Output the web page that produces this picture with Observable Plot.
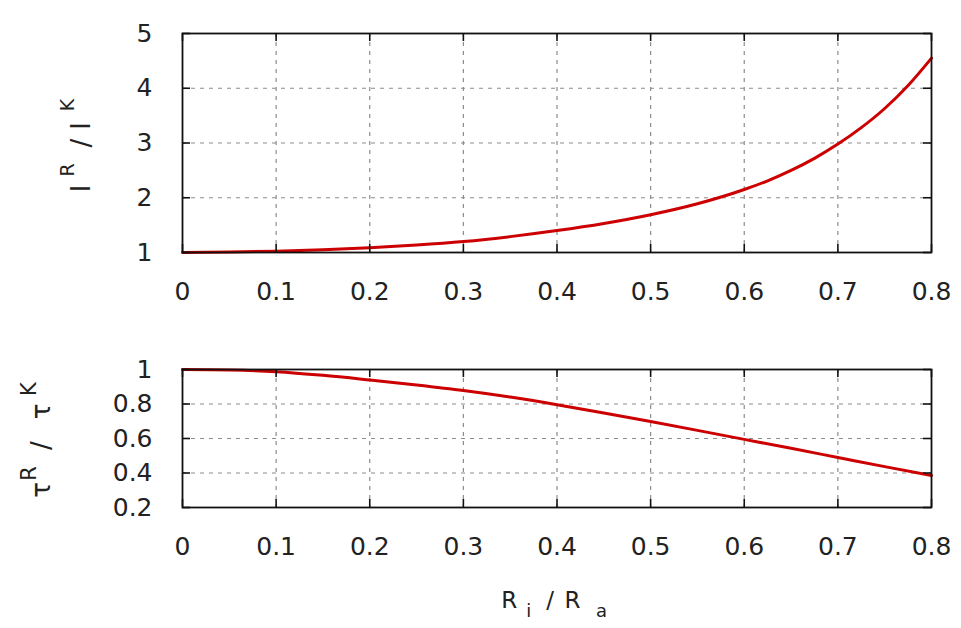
<!DOCTYPE html>
<html>
<head>
<meta charset="utf-8">
<script src="https://cdn.jsdelivr.net/npm/d3@7"></script>
<script src="https://cdn.jsdelivr.net/npm/@observablehq/plot@0.6"></script>
<style>
  html, body { margin: 0; padding: 0; background: white; }
  #chart { position: relative; width: 961px; height: 628px; background: white; }
  #chart > svg { position: absolute; left: 0; }
</style>
</head>
<body>
<div id="chart"></div>
<script>
// ---- data ----
const ratioTop = [0, 0.05, 0.1, 0.15, 0.2, 0.25, 0.3, 0.35, 0.4, 0.45, 0.5, 0.55, 0.6, 0.625, 0.65, 0.675, 0.7, 0.725, 0.75, 0.775, 0.8];
const inertiaRatio = [1.00, 1.008, 1.025, 1.05, 1.085, 1.135, 1.20, 1.29, 1.40, 1.53, 1.69, 1.89, 2.15, 2.31, 2.50, 2.72, 2.98, 3.28, 3.63, 4.05, 4.55];
const ratioBottom = [0, 0.05, 0.1, 0.15, 0.2, 0.25, 0.3, 0.35, 0.4, 0.45, 0.5, 0.55, 0.6, 0.65, 0.7, 0.75, 0.8];
const torsionRatio = [1.000, 0.997, 0.987, 0.966, 0.939, 0.910, 0.878, 0.840, 0.796, 0.748, 0.698, 0.647, 0.595, 0.543, 0.490, 0.437, 0.385];
const xTicks = [0, 0.1, 0.2, 0.3, 0.4, 0.5, 0.6, 0.7, 0.8];
const topYTicks = [1, 2, 3, 4, 5];
const bottomYTicks = [0.2, 0.4, 0.6, 0.8, 1];

const topData = ratioTop.map((x, i) => ({x, y: inertiaRatio[i]}));
const bottomData = ratioBottom.map((x, i) => ({x, y: torsionRatio[i]}));

const W = 961;
const lineColor = "#cc0000";
const gridColor = "#8c8c8c";
const fmt = d => String(d);

function panel({data, yDomain, yTicks, height, marginTop, marginBottom}) {
  const marginLeft = 182, marginRight = 30;
  const iw = W - marginLeft - marginRight;
  const ih = height - marginTop - marginBottom;
  const gx = xTicks.filter(d => d > 0 && d < 0.8);
  const gy = yTicks.filter(d => d > yDomain[0] && d < yDomain[1]);
  return Plot.plot({
    width: W,
    height,
    marginLeft, marginRight, marginTop, marginBottom,
    style: {fontFamily: "'DejaVu Sans', sans-serif", fontSize: "25px", color: "#222", background: "white", overflow: "visible"},
    x: {domain: [0, 0.8]},
    y: {domain: yDomain},
    marks: [
      Plot.ruleX(gx, {x: d => d, stroke: gridColor, strokeWidth: 1.2, strokeDasharray: "4,5"}),
      Plot.ruleY(gy, {y: d => d, stroke: gridColor, strokeWidth: 1.2, strokeDasharray: "4,5"}),
      Plot.line(data, {x: "x", y: "y", stroke: lineColor, strokeWidth: 3, curve: "monotone-x"}),
      Plot.frame({stroke: "#111", strokeWidth: 1.8}),
      // inward ticks (bottom, top, left, right)
      Plot.ruleX(xTicks, {x: d => d, insetTop: ih - 8, stroke: "#111", strokeWidth: 1.6}),
      Plot.ruleX(xTicks, {x: d => d, insetBottom: ih - 8, stroke: "#111", strokeWidth: 1.6}),
      Plot.ruleY(yTicks, {y: d => d, insetRight: iw - 8, stroke: "#111", strokeWidth: 1.6}),
      Plot.ruleY(yTicks, {y: d => d, insetLeft: iw - 8, stroke: "#111", strokeWidth: 1.6}),
      Plot.axisX(xTicks, {tickSize: 0, tickPadding: 30, tickFormat: fmt, label: null, fontSize: 25}),
      Plot.axisY(yTicks, {tickSize: 0, tickPadding: 30, tickFormat: fmt, label: null, fontSize: 25})
    ]
  });
}

const chart = document.getElementById("chart");
const topH = 320;
const topSvg = panel({data: topData, yDomain: [1, 5], yTicks: topYTicks, height: topH, marginTop: 33, marginBottom: 68});
const botSvg = panel({data: bottomData, yDomain: [0.2, 1], yTicks: bottomYTicks, height: 308, marginTop: 49, marginBottom: 121});
topSvg.style.top = "0px";
botSvg.style.top = topH + "px";
chart.appendChild(topSvg);
chart.appendChild(botSvg);

// ---- axis titles with super/subscripts (real text) ----
function rotatedTitle(svg, baseX, pieces) {
  const t = d3.select(svg).append("text")
    .attr("transform", `translate(${baseX},0) rotate(-90)`)
    .attr("text-anchor", "middle")
    .attr("fill", "#222")
    .style("font-family", "'DejaVu Sans', sans-serif");
  for (const p of pieces) {
    t.append("tspan").attr("x", -p.c).attr("y", p.shift || 0)
      .style("font-size", p.size + "px").text(p.s);
  }
}
// top: I^R / I^K
rotatedTitle(topSvg, 90, [
  {s: "I", c: 188.5, size: 26},
  {s: "R", c: 170, size: 19, shift: -16},
  {s: "/", c: 143, size: 26},
  {s: "I", c: 126, size: 26},
  {s: "K", c: 105, size: 19, shift: -16}
]);
// bottom: τ^R / τ^K (coordinates relative to bottom svg)
rotatedTitle(botSvg, 50, [
  {s: "τ", c: 490 - topH, size: 26},
  {s: "R", c: 473.5 - topH, size: 21, shift: -14},
  {s: "/", c: 445.5 - topH, size: 26},
  {s: "τ", c: 411.5 - topH, size: 26},
  {s: "K", c: 389 - topH, size: 21, shift: -14}
]);
// x title: R_i / R_a
{
  const t = d3.select(botSvg).append("text")
    .attr("text-anchor", "middle").attr("fill", "#222")
    .style("font-family", "'DejaVu Sans', sans-serif");
  const base = 608.3 - topH;
  const pieces = [
    {s: "R", c: 509.3, size: 23, y: base},
    {s: "i", c: 528.7, size: 18, y: base + 9},
    {s: "/", c: 550, size: 23, y: base},
    {s: "R", c: 572.5, size: 23, y: base},
    {s: "a", c: 601.5, size: 18, y: base + 9}
  ];
  for (const p of pieces) {
    t.append("tspan").attr("x", p.c).attr("y", p.y).style("font-size", p.size + "px").text(p.s);
  }
}
</script>
</body>
</html>
